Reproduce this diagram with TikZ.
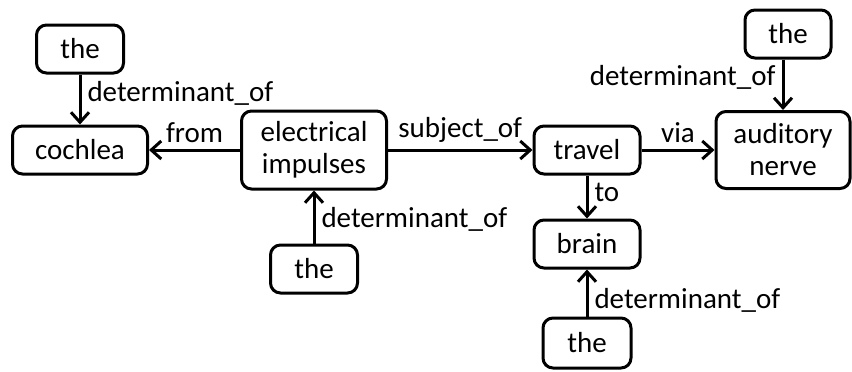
\documentclass[tikz,border=0pt]{standalone}
\usepackage{fontspec}
\setmainfont{Carlito}
\usepackage{tikz}
\usetikzlibrary{arrows.meta}

\begin{document}
\begin{tikzpicture}[x=0.5pt,y=-0.5pt]
\tikzstyle{word}=[draw,rectangle,rounded corners=5pt,line width=1.5pt,inner sep=2pt,minimum height=24pt,align=center,font=\fontsize{14.5}{16}\selectfont]
\tikzstyle{rel}=[line width=1.5pt,-{Straight Barb[length=5pt,width=9pt,line width=1.5pt]}]
\tikzstyle{lab}=[inner sep=3pt,font=\fontsize{14.5}{16}\selectfont]
\useasboundingbox (0,0) rectangle (852,371);
\node[word,minimum width=43.5pt] (the1) at (80,49) {the};
\node[word,minimum width=67.5pt] (cochlea) at (80,150) {cochlea};
\node[word,minimum width=72.5pt,minimum height=39pt] (impulses) at (314,150) {electrical\\impulses};
\node[word,minimum width=43.5pt] (the2) at (314,269) {the};
\node[word,minimum width=53pt] (travel) at (587,150) {travel};
\node[word,minimum width=67pt,minimum height=38.5pt] (nerve) at (783,150) {auditory\\nerve};
\node[word,minimum width=43pt] (the3) at (788,34) {the};
\node[word,minimum width=53pt] (brain) at (587,244) {brain};
\node[word,minimum width=44pt,minimum height=25pt] (the4) at (587,343) {the};
\draw[rel] (the1) -- node[lab,anchor=west,pos=0.38] {determinant\_of} (cochlea);
\draw[rel] (impulses) -- node[lab,anchor=south] {from} (cochlea);
\draw[rel] (the2) -- node[lab,anchor=west,pos=0.45] {determinant\_of} (impulses);
\draw[rel] (impulses) -- node[lab,anchor=south] {subject\_of} (travel);
\draw[rel] (travel) -- node[lab,anchor=south] {via} (nerve);
\draw[rel] (the3.south -| nerve.north) -- node[lab,anchor=east,pos=0.35] {determinant\_of} (nerve.north);
\draw[rel] (travel) -- node[lab,anchor=west,pos=0.4] {to} (brain);
\draw[rel] (the4) -- node[lab,anchor=west,pos=0.35] {determinant\_of} (brain);
\end{tikzpicture}
\end{document}
